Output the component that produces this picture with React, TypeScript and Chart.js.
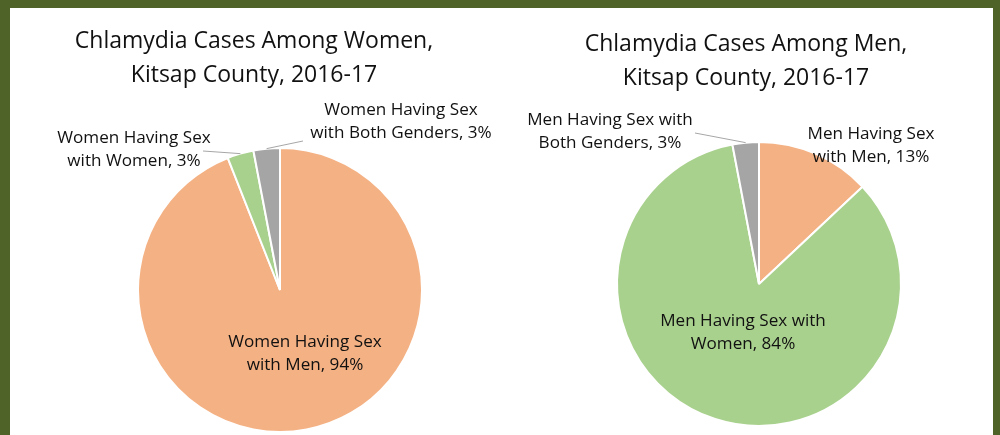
import React, { useEffect, useRef } from 'react';
import { Chart, registerables } from 'chart.js';

Chart.register(...registerables);

// ---- Data ----
const womenCategories = [
  'Women Having Sex with Men',
  'Women Having Sex with Women',
  'Women Having Sex with Both Genders',
];
const womenValues = [94, 3, 3];
const womenLabelLines = [
  ['Women Having Sex', 'with Men'],
  ['Women Having Sex', 'with Women'],
  ['Women Having Sex', 'with Both Genders'],
];
const womenTitle = ['Chlamydia Cases Among Women,', 'Kitsap County, 2016-17'];

const menCategories = [
  'Men Having Sex with Men',
  'Men Having Sex with Women',
  'Men Having Sex with Both Genders',
];
const menValues = [13, 84, 3];
const menLabelLines = [
  ['Men Having Sex', 'with Men'],
  ['Men Having Sex with', 'Women'],
  ['Men Having Sex with', 'Both Genders'],
];
const menTitle = ['Chlamydia Cases Among Men,', 'Kitsap County, 2016-17'];

const sliceColors = ['#F4B183', '#A9D18E', '#A5A5A5'];

const FONT = '"Open Sans", Lato, sans-serif';
const TEXT_COLOR = '#111111';
const BORDER_COLOR = '#4F6228';

type LabelSpec = { x: number; y: number; leader?: [number, number] };
type PieSpec = {
  categories: string[];
  values: number[];
  lines: string[][];
  title: string[];
  titleX: number;
  titleY: number;
  padding: { left: number; top: number; right: number; bottom: number };
  labels: LabelSpec[];
};

const TITLE_SIZE = 23;
const TITLE_LINE = 33.5;
const LABEL_SIZE = 17.1;
const LABEL_LINE = 22.5;

function makeTextPlugin(spec: PieSpec) {
  return {
    id: 'pieText',
    afterDraw(chart: any) {
      const ctx = chart.ctx as CanvasRenderingContext2D;
      const meta = chart.getDatasetMeta(0);
      ctx.save();
      ctx.fillStyle = TEXT_COLOR;
      ctx.textAlign = 'center';
      ctx.textBaseline = 'alphabetic';
      ctx.font = `${TITLE_SIZE}px ${FONT}`;
      spec.title.forEach((t, i) => ctx.fillText(t, spec.titleX, spec.titleY + i * TITLE_LINE));
      ctx.font = `${LABEL_SIZE}px ${FONT}`;
      meta.data.forEach((arc: any, i: number) => {
        const ls = spec.labels[i];
        const lines = spec.lines[i].slice();
        lines[lines.length - 1] = `${lines[lines.length - 1]}, ${spec.values[i]}%`;
        if (ls.leader) {
          const p = arc.getProps(['x', 'y', 'startAngle', 'endAngle', 'outerRadius'], true);
          const mid = (p.startAngle + p.endAngle) / 2;
          ctx.beginPath();
          ctx.moveTo(p.x + Math.cos(mid) * p.outerRadius, p.y + Math.sin(mid) * p.outerRadius);
          ctx.lineTo(ls.leader[0], ls.leader[1]);
          ctx.strokeStyle = '#A6A6A6';
          ctx.lineWidth = 1;
          ctx.stroke();
        }
        ctx.fillStyle = TEXT_COLOR;
        lines.forEach((l, j) => ctx.fillText(l, ls.x, ls.y + j * LABEL_LINE));
      });
      ctx.restore();
    },
  };
}

const womenSpec: PieSpec = {
  categories: womenCategories,
  values: womenValues,
  lines: womenLabelLines,
  title: womenTitle,
  titleX: 254,
  titleY: 48,
  padding: { left: 137, top: 147, right: 77, bottom: 2 },
  labels: [
    { x: 305, y: 347 },
    { x: 134, y: 143, leader: [203, 151] },
    { x: 401, y: 115, leader: [303, 141] },
  ],
};

const menSpec: PieSpec = {
  categories: menCategories,
  values: menValues,
  lines: menLabelLines,
  title: menTitle,
  titleX: 246,
  titleY: 51,
  padding: { left: 116, top: 141, right: 98, bottom: 8 },
  labels: [
    { x: 371, y: 139 },
    { x: 243, y: 326 },
    { x: 110, y: 125, leader: [195, 133] },
  ],
};

function PieChart({ spec, left }: { spec: PieSpec; left: number }) {
  const ref = useRef<HTMLCanvasElement | null>(null);
  useEffect(() => {
    if (!ref.current) return;
    const chart = new Chart(ref.current, {
      type: 'pie',
      data: {
        labels: spec.categories,
        datasets: [
          {
            data: spec.values,
            backgroundColor: sliceColors,
            borderColor: '#ffffff',
            borderWidth: 2,
            hoverOffset: 0,
          },
        ],
      },
      options: {
        animation: false,
        responsive: false,
        events: [],
        layout: { padding: spec.padding },
        plugins: {
          legend: { display: false },
          title: { display: false },
          tooltip: { enabled: false },
        },
      },
      plugins: [makeTextPlugin(spec)],
    });
    return () => chart.destroy();
  }, [spec]);
  return (
    <canvas
      ref={ref}
      width={500}
      height={435}
      style={{ position: 'absolute', left, top: 0, width: 500, height: 435 }}
    />
  );
}

export default function App() {
  return (
    <div
      style={{
        position: 'fixed',
        left: 0,
        top: 0,
        width: 1000,
        height: 435,
        background: '#ffffff',
        overflow: 'hidden',
      }}
    >
      <PieChart spec={womenSpec} left={0} />
      <PieChart spec={menSpec} left={500} />
      <div style={{ position: 'absolute', left: 0, top: 0, width: 1000, height: 8, background: BORDER_COLOR }} />
      <div style={{ position: 'absolute', left: 0, top: 0, width: 10, height: 435, background: BORDER_COLOR }} />
      <div style={{ position: 'absolute', left: 993, top: 0, width: 7, height: 435, background: BORDER_COLOR }} />
    </div>
  );
}
